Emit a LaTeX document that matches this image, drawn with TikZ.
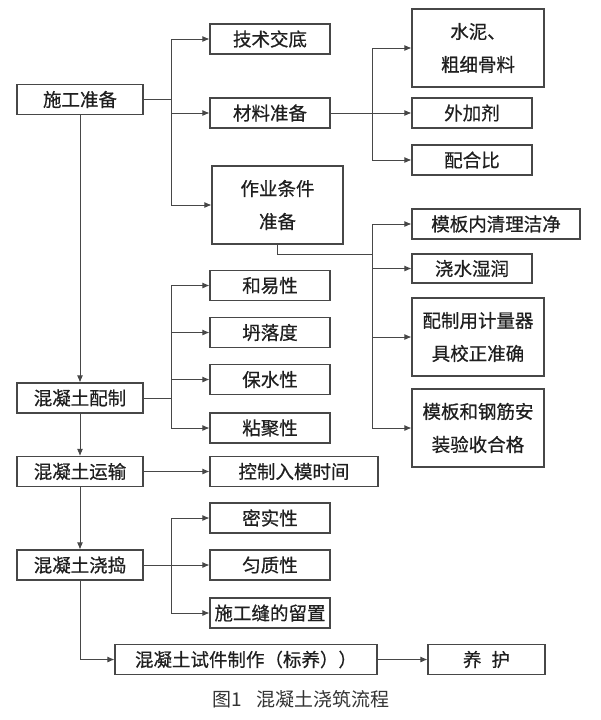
\documentclass[tikz,border=0pt]{standalone}
\usepackage{fontspec}
\setmainfont{Noto Sans CJK SC}[FakeBold=0.6]
\newfontfamily\captionfont{Noto Sans CJK SC}
\usetikzlibrary{arrows.meta}

\begin{document}
\begin{tikzpicture}[x=1pt,y=-1pt,
  flowbox/.style={rectangle,draw=black!72,line width=1.1pt,minimum width=120pt,
    minimum height=30pt,inner sep=0pt,text=black!88,
    font=\fontsize{18.5}{33}\selectfont,align=center},
  tallbox/.style={flowbox,minimum width=132pt,minimum height=78pt},
  link/.style={draw=black!72,line width=0.9pt,-{Latex[length=7pt,width=6pt]}},
  wire/.style={draw=black!72,line width=0.9pt}]
  \useasboundingbox (0,0) rectangle (600,720);

  % main column
  \node[flowbox,minimum width=126pt] (prep) at (80,99.5) {施工准备};
  \node[flowbox,minimum width=126pt] (mix) at (80,398) {混凝土配制};
  \node[flowbox,minimum width=126pt] (trans) at (80,471.5) {混凝土运输};
  \node[flowbox,minimum width=126pt] (pour) at (80,565) {混凝土浇捣};
  \node[flowbox,minimum width=262pt] (sample) at (246,659.5) {混凝土试件制作（标养））};
  \node[flowbox,minimum width=117pt] (cure) at (486.5,659.5) {养\hspace{10pt}护};

  % preparation
  \node[flowbox] (brief) at (270,39) {技术交底};
  \node[flowbox] (mat) at (270,113) {材料准备};
  \node[tallbox,minimum width=131pt] (cond) at (277.5,205) {作业条件\\准备};
  \node[tallbox] (cement) at (478,48) {水泥、\\粗细骨料};
  \node[flowbox] (admix) at (472,113) {外加剂};
  \node[flowbox] (ratio) at (472,160) {配合比};
  \node[flowbox,minimum width=168pt] (clean) at (496,224) {模板内清理洁净};
  \node[flowbox,minimum height=29pt] (wet) at (472,268.5) {浇水湿润};
  \node[tallbox] (meter) at (478,337) {配制用计量器\\具校正准确};
  \node[tallbox] (form) at (478,428) {模板和钢筋安\\装验收合格};

  % mixing
  \node[flowbox] (work) at (270,285.5) {和易性};
  \node[flowbox] (slump) at (270,332.5) {坍落度};
  \node[flowbox] (water) at (270,379.5) {保水性};
  \node[flowbox] (cohes) at (270,428) {粘聚性};

  % transport and pouring
  \node[flowbox,minimum width=168pt] (timing) at (294,471.5) {控制入模时间};
  \node[flowbox] (dense) at (270,518) {密实性};
  \node[flowbox] (unif) at (270,565) {匀质性};
  \node[flowbox] (joint) at (270,613) {施工缝的留置};

  \node[text=black!80,font=\captionfont\fontsize{19}{21}\selectfont] (caption) at (301,699)
    {图1\hspace{15pt}混凝土浇筑流程};

  % branch points
  \coordinate (b1) at (171,99.5);
  \coordinate (b2) at (372,113);
  \coordinate (b3) at (372,254);
  \coordinate (b4) at (171,398);
  \coordinate (b5) at (171,565);

  % main flow
  \draw[link] (prep) -- (mix);
  \draw[link] (mix) -- (trans);
  \draw[link] (trans) -- (pour);
  \draw[link] (pour.south) |- (sample.west);
  \draw[link] (sample) -- (cure);

  \draw[wire] (prep.east) -- (b1);
  \draw[link] (b1) |- (brief.west);
  \draw[link] (b1) |- (mat.west);
  \draw[link] (b1) |- (cond.west);

  \draw[link] (mat.east) -- (admix.west);
  \draw[link] (b2) |- (cement.west);
  \draw[link] (b2) |- (ratio.west);

  \draw[wire] (cond.south) |- (b3);
  \draw[link] (b3) |- (clean.west);
  \draw[link] (b3) |- (wet.west);
  \draw[link] (b3) |- (meter.west);
  \draw[link] (b3) |- (form.west);

  \draw[wire] (mix.east) -- (b4);
  \draw[link] (b4) |- (work.west);
  \draw[link] (b4) |- (slump.west);
  \draw[link] (b4) |- (water.west);
  \draw[link] (b4) |- (cohes.west);

  \draw[link] (trans) -- (timing);

  \draw[link] (pour.east) -- (unif.west);
  \draw[link] (b5) |- (dense.west);
  \draw[link] (b5) |- (joint.west);
\end{tikzpicture}
\end{document}
